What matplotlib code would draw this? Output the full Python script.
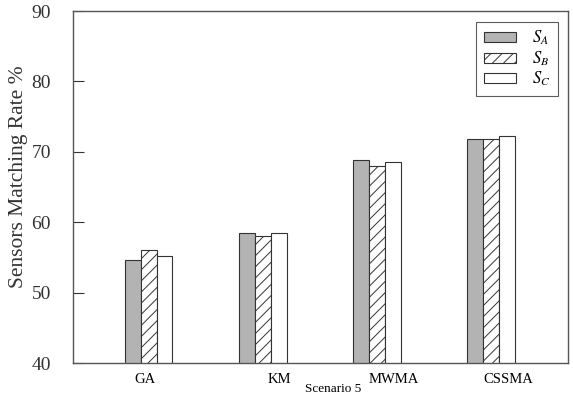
import matplotlib.pyplot as plt
import numpy as np

plt.rcParams['font.family'] = ['Liberation Serif', 'DejaVu Serif']
plt.rcParams['mathtext.fontset'] = 'stix'
plt.rcParams['hatch.linewidth'] = 0.7

methods = ['GA', 'KM', 'MWMA', 'CSSMA']
s_a = [54.6, 58.5, 68.8, 71.8]
s_b = [56.0, 58.0, 68.0, 71.8]
s_c = [55.2, 58.5, 68.5, 72.3]

fig = plt.figure(figsize=(5.73, 3.99), dpi=100)
ax = fig.add_axes([73 / 573, 36 / 399, 495 / 573, 352 / 399])

x = np.arange(1, len(methods) + 1)
w = 0.138

ax.bar(x - w, s_a, w, color='#b3b3b3', edgecolor='#333333', lw=0.8, label='$S_A$')
ax.bar(x, s_b, w, color='white', edgecolor='#333333', hatch='///', lw=0.8, label='$S_B$')
ax.bar(x + w, s_c, w, color='white', edgecolor='#333333', lw=0.8, label='$S_C$')

ax.set_ylim(40, 90)
ax.set_xlim(0.335, 4.675)
ax.set_yticks([40, 50, 60, 70, 80, 90])
# category labels sit a little right of their groups
label_shift = [-0.03, 0.14, 0.15, 0.15]
ax.set_xticks(x + np.array(label_shift))
ax.set_xticklabels(methods, fontsize=10.5)
ax.tick_params(axis='y', direction='in', length=8, labelsize=14, colors='#333333', pad=16)
ax.tick_params(axis='x', length=0, pad=7)
for sp in ax.spines.values():
    sp.set_color('#555555')
    sp.set_linewidth(1.0)

ax.set_ylabel('Sensors Matching Rate %', fontsize=15.5, color='#333333')
ax.yaxis.set_label_coords(-0.09, 0.53)
ax.set_xlabel('Scenario 5', fontsize=9.5)
ax.xaxis.set_label_coords(0.526, -0.056)

leg = ax.legend(loc='upper right', bbox_to_anchor=(0.98, 0.97), fontsize=12,
                fancybox=False, edgecolor='#333333', handlelength=1.9,
                handleheight=0.55, labelspacing=0.12, borderpad=0.45,
                handletextpad=1.0, borderaxespad=0)
leg.get_frame().set_linewidth(0.8)

fig.savefig('out.png', dpi=100)
